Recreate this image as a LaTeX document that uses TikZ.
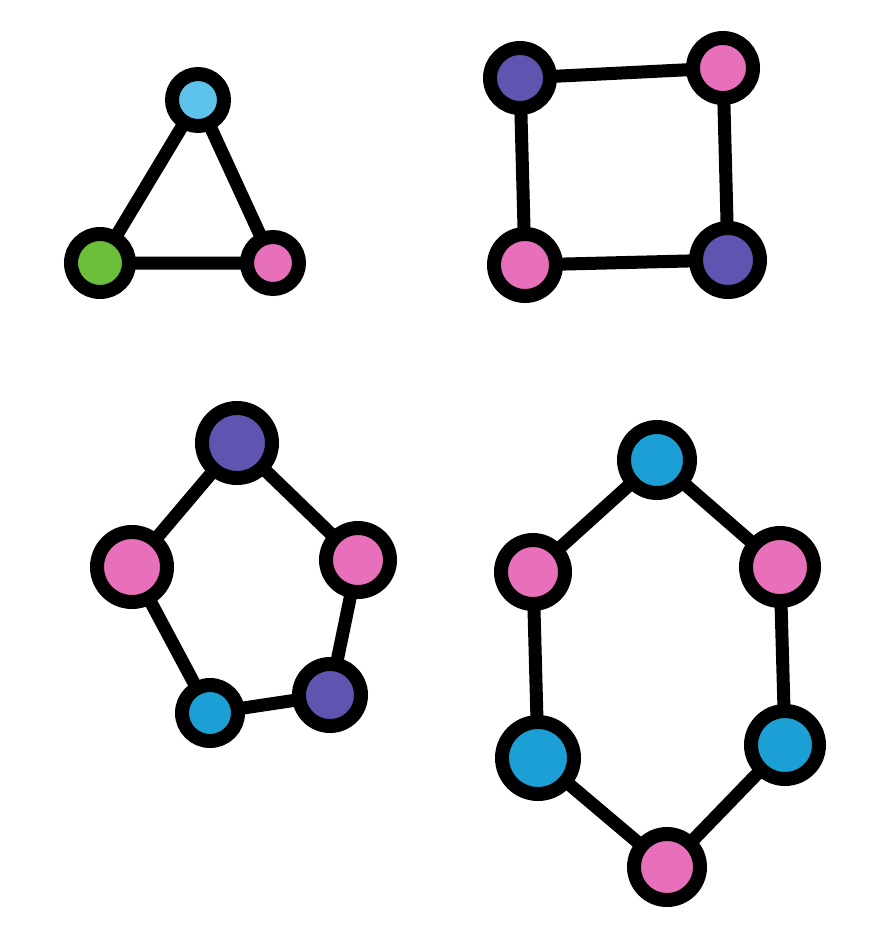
\documentclass[tikz,border=0pt]{standalone}
\usetikzlibrary{backgrounds}
\definecolor{cyanL}{HTML}{5EC3EA}
\definecolor{greenL}{HTML}{6BBF3A}
\definecolor{pinkL}{HTML}{E870BA}
\definecolor{purpleL}{HTML}{5F55B0}
\definecolor{blueL}{HTML}{1C9FD5}
\tikzset{
  gnode/.style={circle, draw=black, line width=14pt, inner sep=0pt, minimum size=#1},
  gedge/.style={draw=black, line width=13pt, line cap=round}
}
\begin{document}
\begin{tikzpicture}[x=1pt,y=-1pt]
\useasboundingbox (0,0) rectangle (893,944);
% triangle
\node[gnode=52, fill=cyanL] (t1) at (198,100) {};
\node[gnode=58, fill=greenL] (t2) at (100,263) {};
\node[gnode=52, fill=pinkL] (t3) at (273,263) {};
% square
\node[gnode=60, fill=purpleL] (s1) at (520,78) {};
\node[gnode=60, fill=pinkL] (s2) at (723,68) {};
\node[gnode=64, fill=purpleL] (s3) at (728,260) {};
\node[gnode=62, fill=pinkL] (s4) at (525,265) {};
% pentagon
\node[gnode=70, fill=purpleL] (p1) at (237,443) {};
\node[gnode=64, fill=pinkL] (p2) at (358,560) {};
\node[gnode=62, fill=purpleL] (p3) at (330,695) {};
\node[gnode=56, fill=blueL] (p4) at (210,713) {};
\node[gnode=70, fill=pinkL] (p5) at (132,567) {};
% hexagon
\node[gnode=66, fill=blueL] (h1) at (657,460) {};
\node[gnode=68, fill=pinkL] (h2) at (780,567) {};
\node[gnode=68, fill=blueL] (h3) at (785,745) {};
\node[gnode=66, fill=pinkL] (h4) at (667,867) {};
\node[gnode=72, fill=blueL] (h5) at (538,758) {};
\node[gnode=64, fill=pinkL] (h6) at (533,572) {};
\begin{scope}[on background layer]
\fill[white] (0,0) rectangle (893,944);
\draw[gedge] (t1.center) -- (t2.center) -- (t3.center) -- (t1.center);
\draw[gedge] (s1.center) -- (s2.center) -- (s3.center) -- (s4.center) -- (s1.center);
\draw[gedge] (p1.center) -- (p2.center) -- (p3.center) -- (p4.center) -- (p5.center) -- (p1.center);
\draw[gedge] (h1.center) -- (h2.center) -- (h3.center) -- (h4.center) -- (h5.center) -- (h6.center) -- (h1.center);
\end{scope}
\end{tikzpicture}
\end{document}
